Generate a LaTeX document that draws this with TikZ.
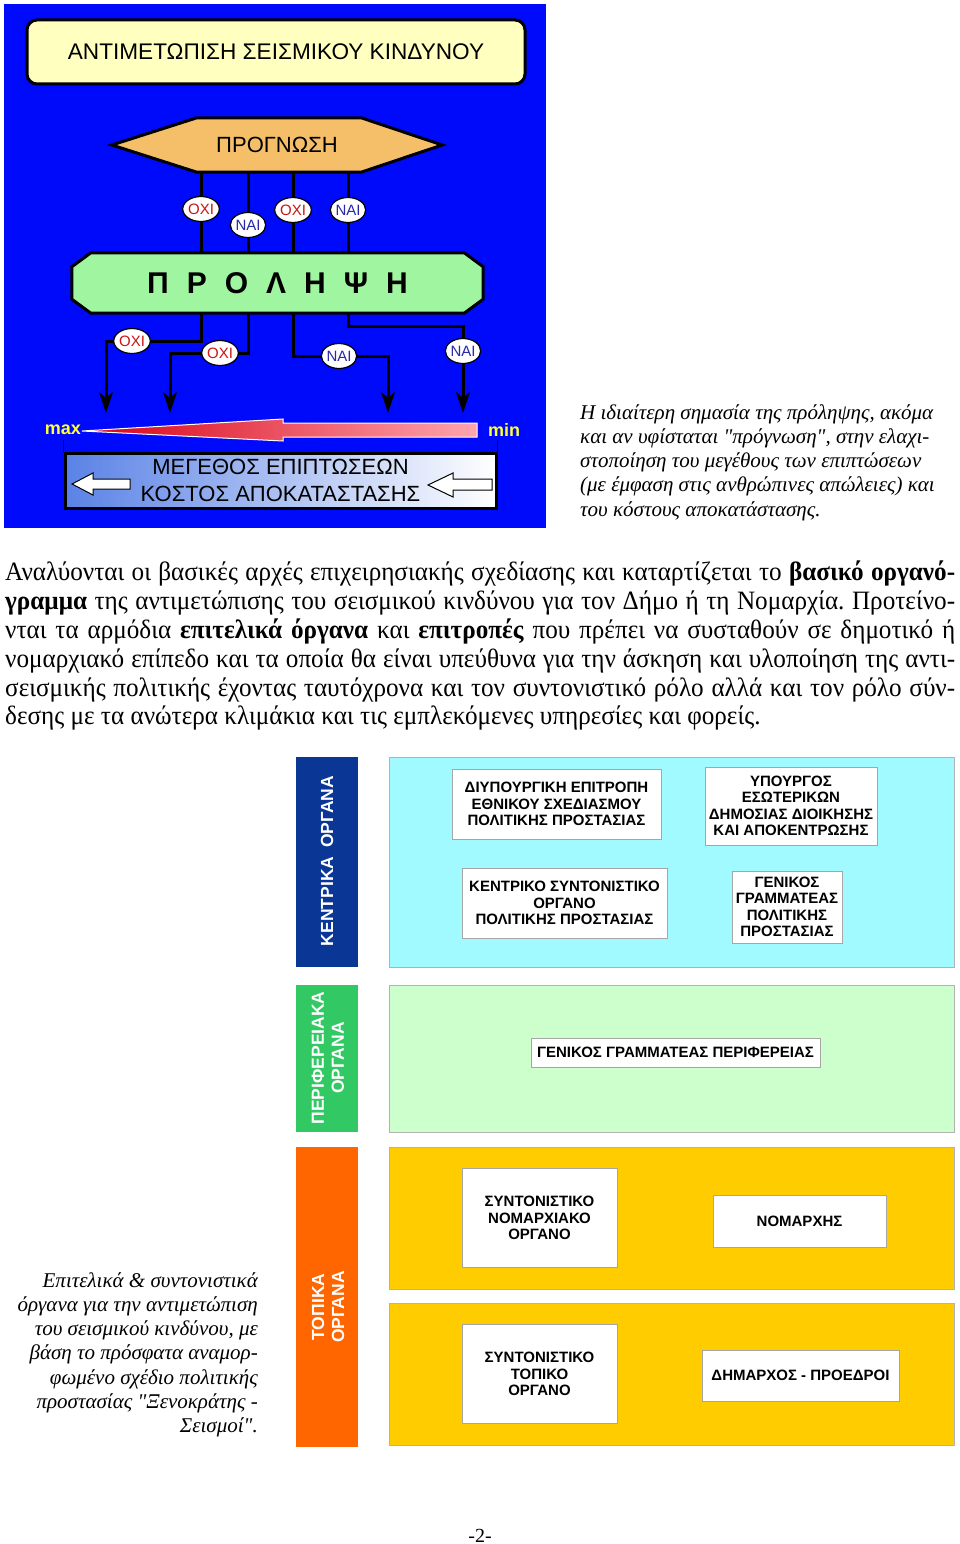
\documentclass[tikz,border=0pt]{standalone}
\usepackage{fontspec}
\setmainfont{Liberation Serif}
\setsansfont{Liberation Sans}
\newfontfamily\bodyfont[FakeStretch=0.95]{Liberation Serif}
\usepackage{tikz}
\usetikzlibrary{shapes.geometric, arrows.meta, positioning, calc, backgrounds}
\frenchspacing

\definecolor{bgBlue}{RGB}{0,10,250}
\definecolor{titleYellow}{RGB}{255,255,192}
\definecolor{prognOrange}{RGB}{245,190,105}
\definecolor{prolGreen}{RGB}{160,245,160}
\definecolor{noRed}{RGB}{200,20,20}
\definecolor{yesBlue}{RGB}{40,40,170}
\definecolor{maxYellow}{RGB}{255,255,60}
\definecolor{costBlue}{RGB}{90,130,230}
\definecolor{kentrBlue}{RGB}{10,55,150}
\definecolor{kentrCyan}{RGB}{160,250,255}
\definecolor{perifGreen}{RGB}{50,200,100}
\definecolor{perifLight}{RGB}{204,255,204}
\definecolor{topOrange}{RGB}{255,102,0}
\definecolor{topGold}{RGB}{255,204,0}

\begin{document}
\begin{tikzpicture}[x=1pt, y=-1pt,
    yesno/.style={ellipse, draw, line width=1.2pt, fill=white, minimum width=34pt, minimum height=25pt, inner sep=0pt, font=\sffamily\fontsize{15}{15}\selectfont},
    oxi/.style={yesno, text=noRed},
    nai/.style={yesno, text=yesBlue},
    link/.style={line width=3pt},
    flow/.style={link, -{Stealth[length=21pt, width=14pt, inset=6pt]}},
    orgbox/.style={draw=gray!70, fill=white, line width=0.8pt, align=center, inner sep=0pt, font=\sffamily\bfseries\fontsize{15}{16.5}\selectfont},
    panel/.style={draw=gray!60, line width=0.8pt},
    bandtext/.style={rotate=90, text=white, align=center, font=\sffamily\bfseries\fontsize{17.5}{20}\selectfont},
    capt/.style={inner sep=0pt, font=\itshape\fontsize{21}{24.3}\selectfont},
]
\useasboundingbox (0,0) rectangle (960,1544);

\begin{scope}[on background layer]
    \fill[white] (0,0) rectangle (960,1544);
    \fill[bgBlue] (4,4) rectangle (546,528);
    % panels of the organ chart
    \draw[panel, fill=kentrCyan] (389,757) rectangle (954,967);
    \draw[panel, fill=perifLight] (389,985) rectangle (954,1132);
    \draw[panel, fill=topGold] (389,1147) rectangle (954,1289);
    \draw[panel, fill=topGold] (389,1303) rectangle (954,1445);
    \fill[kentrBlue] (296,757) rectangle (358,967);
    \fill[perifGreen] (296,985) rectangle (358,1132);
    \fill[topOrange] (296,1147) rectangle (358,1447);
\end{scope}

% upper diagram
\node[draw, line width=3pt, rounded corners=10pt, fill=titleYellow, minimum width=498pt, minimum height=64pt, font=\sffamily\fontsize{22.6}{26}\selectfont] (title) at (276,52) {ΑΝΤΙΜΕΤΩΠΙΣΗ ΣΕΙΣΜΙΚΟΥ ΚΙΝΔΥΝΟΥ};

\node[minimum width=330pt, minimum height=54pt, font=\sffamily\fontsize{22}{26}\selectfont] (progn) at (277,145) {ΠΡΟΓΝΩΣΗ};
\node[minimum width=411pt, minimum height=60pt, font=\sffamily\bfseries\fontsize{30}{34}\selectfont] (prol) at (277.5,283)
    {Π\hspace{18pt}Ρ\hspace{18pt}Ο\hspace{18pt}Λ\hspace{18pt}Η\hspace{18pt}Ψ\hspace{18pt}Η};

\begin{scope}[on background layer]
    \draw[line width=3pt, fill=prognOrange] (progn.west) -- ([xshift=85pt]progn.north west) -- ([xshift=-81pt]progn.north east)
        -- (progn.east) -- ([xshift=-81pt]progn.south east) -- ([xshift=85pt]progn.south west) -- cycle;
    \draw[line width=3pt, fill=prolGreen] ([xshift=19pt]prol.north west) -- ([xshift=-19pt]prol.north east)
        -- ([yshift=-14pt]prol.north east) -- ([yshift=14pt]prol.south east) -- ([xshift=-19pt]prol.south east)
        -- ([xshift=19pt]prol.south west) -- ([yshift=14pt]prol.south west) -- ([yshift=-14pt]prol.north west) -- cycle;
\end{scope}

\coordinate (t1) at (201,209);
\coordinate (t2) at (248,225);
\coordinate (t3) at (293,210);
\coordinate (t4) at (348,210);
\foreach \t in {t1,t2,t3,t4}
    \draw[link] (progn.south -| \t) -- (prol.north -| \t);
\node[oxi] (p1) at (t1) {ΟΧΙ};
\node[nai] (p2) at (t2) {ΝΑΙ};
\node[oxi] (p3) at (t3) {ΟΧΙ};
\node[nai] (p4) at (t4) {ΝΑΙ};

\coordinate (l1) at (132,341);
\coordinate (l2) at (220,353);
\coordinate (l3) at (339,356);
\coordinate (k4) at (463,326);
\coordinate (l4) at (463,351);
\coordinate (a1) at (106,413);
\coordinate (a2) at (170,413);
\coordinate (a3) at (388,413);
\coordinate (a4) at (463,413);
\draw[flow] (prol.south -| t1) |- (l1) -| (a1);
\draw[flow] (prol.south -| t2) |- (l2) -| (a2);
\draw[flow] (prol.south -| t3) |- (l3) -| (a3);
\draw[flow] (prol.south -| t4) |- (k4) -- (a4);
\node[oxi] (q1) at (l1) {ΟΧΙ};
\node[oxi] (q2) at (l2) {ΟΧΙ};
\node[nai] (q3) at (l3) {ΝΑΙ};
\node[nai] (q4) at (l4) {ΝΑΙ};

% max -> min
\shade[left color={rgb,255:red,215;green,0;blue,20}, right color={rgb,255:red,255;green,165;blue,175}, draw=white, line width=1pt]
    (82,431) -- (283,419) -- (283,423) -- (477,423) -- (477,437) -- (283,437) -- (283,441) -- cycle;
\node[font=\sffamily\bfseries\fontsize{18}{18}\selectfont, text=maxYellow] (max) at (63,430) {max};
\node[font=\sffamily\bfseries\fontsize{18}{18}\selectfont, text=maxYellow] (min) at (504,430) {min};

\node[draw, line width=3pt, left color=costBlue, right color=white, minimum width=431pt, minimum height=55pt, align=center,
    font=\sffamily\fontsize{22}{27}\selectfont] (cost) at (280.5,480.5) {ΜΕΓΕΘΟΣ ΕΠΙΠΤΩΣΕΩΝ\\ΚΟΣΤΟΣ ΑΠΟΚΑΤΑΣΤΑΣΗΣ};
\draw[line width=1.5pt] (cost.north west) -- ++(0,-12);
\draw[line width=1.5pt] (cost.north east) -- ++(0,-12);
\draw[fill=white, line width=1pt] (72,484) -- (93,473) -- (93,479) -- (130,479) -- (130,489) -- (93,489) -- (93,495) -- cycle;
\draw[fill=white, line width=1pt] (428,485) -- (453,473) -- (453,479) -- (492,479) -- (492,490) -- (453,490) -- (453,497) -- cycle;

\node[capt, anchor=north west, align=left] (note) at (580,404) {Η ιδιαίτερη σημασία της πρόληψης, ακόμα\\
    και αν υφίσταται \textquotedbl πρόγνωση\textquotedbl, στην ελαχι-\\
    στοποίηση του μεγέθους των επιπτώσεων\\
    (με έμφαση στις ανθρώπινες απώλειες) και\\
    του κόστους αποκατάστασης.};

% text
\node[anchor=north west, inner sep=0pt, align=left, font=\bodyfont\fontsize{26.5}{28.8}\selectfont] (body) at (5,561) {%
    \makebox[950pt][s]{Αναλύονται οι βασικές αρχές επιχειρησιακής σχεδίασης και καταρτίζεται το \textbf{βασικό οργανό-}}\\
    \makebox[950pt][s]{\textbf{γραμμα} της αντιμετώπισης του σεισμικού κινδύνου για τον Δήμο ή τη Νομαρχία. Προτείνο-}\\
    \makebox[950pt][s]{νται τα αρμόδια \textbf{επιτελικά όργανα} και \textbf{επιτροπές} που πρέπει να συσταθούν σε δημοτικό ή}\\
    \makebox[950pt][s]{νομαρχιακό επίπεδο και τα οποία θα είναι υπεύθυνα για την άσκηση και υλοποίηση της αντι-}\\
    \makebox[950pt][s]{σεισμικής πολιτικής έχοντας ταυτόχρονα και τον συντονιστικό ρόλο αλλά και τον ρόλο σύν-}\\
    δεσης με τα ανώτερα κλιμάκια και τις εμπλεκόμενες υπηρεσίες και φορείς.};

% organ chart
\node[bandtext] (kentr) at (327,861) {ΚΕΝΤΡΙΚΑ\hspace{0.5em}ΟΡΓΑΝΑ};
\node[bandtext] (perif) at (328,1058) {ΠΕΡΙΦΕΡΕΙΑΚΑ\\ΟΡΓΑΝΑ};
\node[bandtext] (topik) at (328,1307) {ΤΟΠΙΚΑ\\ΟΡΓΑΝΑ};

\node[orgbox, minimum width=209pt, minimum height=70pt] (diyp) at (556.5,804) {ΔΙΥΠΟΥΡΓΙΚΗ ΕΠΙΤΡΟΠΗ\\ΕΘΝΙΚΟΥ ΣΧΕΔΙΑΣΜΟΥ\\ΠΟΛΙΤΙΚΗΣ ΠΡΟΣΤΑΣΙΑΣ};
\node[orgbox, minimum width=172pt, minimum height=78pt] (ypour) at (791,806) {ΥΠΟΥΡΓΟΣ\\ΕΣΩΤΕΡΙΚΩΝ\\ΔΗΜΟΣΙΑΣ ΔΙΟΙΚΗΣΗΣ\\ΚΑΙ ΑΠΟΚΕΝΤΡΩΣΗΣ};
\node[orgbox, minimum width=205pt, minimum height=70pt] (kso) at (564.5,903) {ΚΕΝΤΡΙΚΟ ΣΥΝΤΟΝΙΣΤΙΚΟ\\ΟΡΓΑΝΟ\\ΠΟΛΙΤΙΚΗΣ ΠΡΟΣΤΑΣΙΑΣ};
\node[orgbox, minimum width=110pt, minimum height=72pt] (gengr) at (787,907) {ΓΕΝΙΚΟΣ\\ΓΡΑΜΜΑΤΕΑΣ\\ΠΟΛΙΤΙΚΗΣ\\ΠΡΟΣΤΑΣΙΑΣ};
\node[orgbox, minimum width=289pt, minimum height=29pt] (genper) at (675.5,1052.5) {ΓΕΝΙΚΟΣ ΓΡΑΜΜΑΤΕΑΣ ΠΕΡΙΦΕΡΕΙΑΣ};
\node[orgbox, minimum width=155pt, minimum height=99pt] (snom) at (539.5,1218) {ΣΥΝΤΟΝΙΣΤΙΚΟ\\ΝΟΜΑΡΧΙΑΚΟ\\ΟΡΓΑΝΟ};
\node[orgbox, minimum width=173pt, minimum height=52pt] (nomar) at (799.5,1221) {ΝΟΜΑΡΧΗΣ};
\node[orgbox, minimum width=155pt, minimum height=99pt] (stop) at (539.5,1374) {ΣΥΝΤΟΝΙΣΤΙΚΟ\\ΤΟΠΙΚΟ\\ΟΡΓΑΝΟ};
\node[orgbox, minimum width=197pt, minimum height=51pt] (dimar) at (800.5,1375.5) {ΔΗΜΑΡΧΟΣ - ΠΡΟΕΔΡΟΙ};

\node[capt, anchor=north east, align=right] (epit) at (258,1272) {Επιτελικά \& συντονιστικά\\
    όργανα για την αντιμετώπιση\\
    του σεισμικού κινδύνου, με\\
    βάση το πρόσφατα αναμορ-\\
    φωμένο σχέδιο πολιτικής\\
    προστασίας \textquotedbl Ξενοκράτης -\\
    Σεισμοί\textquotedbl.};

\node[font=\fontsize{20}{20}\selectfont] (page) at (480,1536) {-2-};
\end{tikzpicture}
\end{document}
